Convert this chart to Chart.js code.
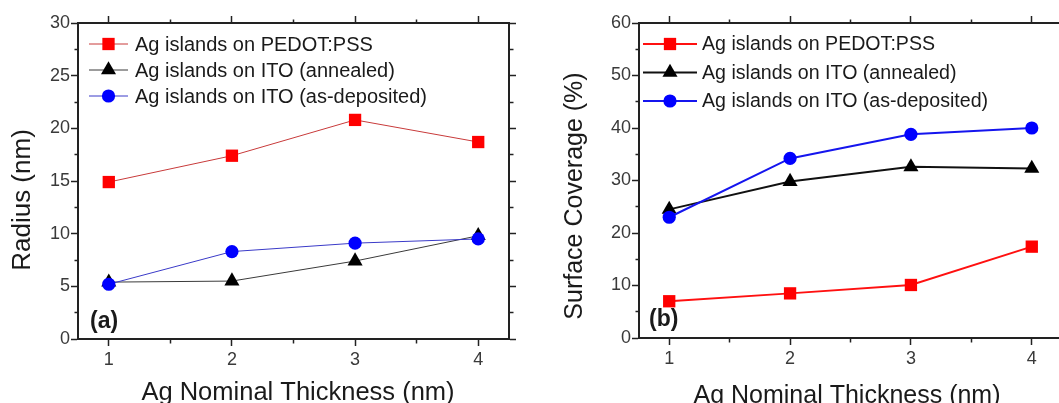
<!DOCTYPE html>
<html>
<head>
<meta charset="utf-8">
<title>Ag islands</title>
<script src="https://cdn.jsdelivr.net/npm/chart.js@4/dist/chart.umd.min.js"></script>
<style>
html, body { margin: 0; padding: 0; background: #fff; overflow: hidden; width: 1059px; height: 403px; }
#radiusChart { position: absolute; left: 0; top: 0; }
#coverageChart { position: absolute; left: 530px; top: 0; }
</style>
</head>
<body>
<canvas id="radiusChart" width="530" height="403"></canvas>
<canvas id="coverageChart" width="560" height="403"></canvas>
<script>
// data
var thickness = [1, 2, 3, 4];
var seriesNames = ['Ag islands on PEDOT:PSS', 'Ag islands on ITO (annealed)', 'Ag islands on ITO (as-deposited)'];

var radiusPedot = [14.9, 17.4, 20.8, 18.7];
var radiusItoAnnealed = [5.4, 5.5, 7.4, 9.8];
var radiusItoAsDep = [5.2, 8.3, 9.1, 9.5];

var coveragePedot = [7.0, 8.5, 10.1, 17.4];
var coverageItoAnnealed = [24.5, 29.8, 32.6, 32.3];
var coverageItoAsDep = [23.0, 34.2, 38.8, 40.0];

var xTicks = [1, 1.5, 2, 2.5, 3, 3.5, 4];
var xLabels = [1, 2, 3, 4];
var radiusTicks = [0, 2.5, 5, 7.5, 10, 12.5, 15, 17.5, 20, 22.5, 25, 27.5, 30];
var radiusLabels = [0, 5, 10, 15, 20, 25, 30];
var coverageTicks = [0, 5, 10, 15, 20, 25, 30, 35, 40, 45, 50, 55, 60];
var coverageLabels = [0, 10, 20, 30, 40, 50, 60];

var FONT = "'Liberation Sans', Arial, sans-serif";
Chart.defaults.font.family = FONT;

function toPoints(ys) {
    var pts = [];
    for (var i = 0; i < thickness.length; i++) {
        pts.push({ x: thickness[i], y: ys[i] });
    }
    return pts;
}

// one axis; labelled ticks get the long mark, the others a short one
function axis(pos, min, max, ticks, labels, showLabels, size) {
    var outerFirst = (pos == 'top' || pos == 'left');
    return {
        type: 'linear',
        position: pos,
        min: min,
        max: max,
        afterBuildTicks: function(scale) {
            scale.ticks = ticks.map(function(v) { return { value: v }; });
        },
        afterFit: function(scale) {
            if (pos == 'top' || pos == 'bottom') scale.height = size;
            else scale.width = size;
        },
        ticks: {
            display: showLabels,
            autoSkip: false,
            maxRotation: 0,
            padding: (pos == 'bottom') ? 3 : 1,
            color: '#3a3a3a',
            font: { size: 18 },
            callback: function(value) {
                return labels.indexOf(value) >= 0 ? String(value) : '';
            }
        },
        grid: {
            display: true,
            drawOnChartArea: false,
            drawTicks: true,
            tickLength: 7,
            tickWidth: 1.5,
            tickColor: '#222',
            tickBorderDash: function(ctx) {
                if (!ctx.tick || labels.indexOf(ctx.tick.value) >= 0) return [];
                return outerFirst ? [0, 3.5, 3.5, 30] : [3.5, 30];
            }
        },
        border: { display: true, color: '#222', width: 2 },
        title: { display: false }
    };
}

function textPlugin(cfg) {
    return {
        id: 'panelText',
        afterDraw: function(chart) {
            var ctx = chart.ctx;
            ctx.save();
            // legend inside the plot
            for (var i = 0; i < cfg.legend.length; i++) {
                var row = cfg.legend[i];
                var ds = chart.data.datasets[i];
                ctx.strokeStyle = ds.borderColor;
                ctx.lineWidth = ds.borderWidth;
                ctx.beginPath();
                ctx.moveTo(cfg.lineX1, row);
                ctx.lineTo(cfg.lineX2, row);
                ctx.stroke();
                ctx.fillStyle = ds.pointBackgroundColor;
                Chart.helpers.drawPoint(ctx, {
                    pointStyle: ds.pointStyle,
                    radius: ds.pointRadius,
                    rotation: 0,
                    borderWidth: 0
                }, (cfg.lineX1 + cfg.lineX2) / 2, row);
                ctx.fillStyle = '#1a1a1a';
                ctx.font = cfg.legendSize + 'px ' + FONT;
                ctx.textAlign = 'left';
                ctx.textBaseline = 'middle';
                ctx.fillText(seriesNames[i], cfg.textX, row + 1);
            }
            // panel letter
            ctx.font = 'bold 23px ' + FONT;
            ctx.fillText(cfg.letter, cfg.letterX, cfg.letterY);
            // x title
            ctx.font = cfg.xTitleSize + 'px ' + FONT;
            ctx.textAlign = 'center';
            ctx.textBaseline = 'alphabetic';
            ctx.fillText('Ag Nominal Thickness (nm)', cfg.xTitleX, cfg.xTitleY);
            // y title
            ctx.translate(cfg.yTitleX, cfg.yTitleY);
            ctx.rotate(-Math.PI / 2);
            ctx.font = cfg.yTitleSize + 'px ' + FONT;
            ctx.textBaseline = 'middle';
            ctx.fillText(cfg.yTitle, 0, 0);
            ctx.restore();
        }
    };
}

function makeDatasets(ys1, ys2, ys3, lw, colors) {
    return [{
        data: toPoints(ys1),
        borderColor: colors[0], borderWidth: lw,
        pointStyle: 'rect', pointRadius: 8.7, pointBackgroundColor: '#ff0000',
        pointBorderWidth: 0, order: 3
    }, {
        data: toPoints(ys2),
        borderColor: colors[1], borderWidth: lw,
        pointStyle: 'triangle', pointRadius: 8.7, pointBackgroundColor: '#000000',
        pointBorderWidth: 0, order: 2
    }, {
        data: toPoints(ys3),
        borderColor: colors[2], borderWidth: lw,
        pointStyle: 'circle', pointRadius: 6.6, pointBackgroundColor: '#0000ff',
        pointBorderWidth: 0, order: 1
    }];
}

var radiusChart = new Chart(document.getElementById('radiusChart'), {
    type: 'line',
    data: { datasets: makeDatasets(radiusPedot, radiusItoAnnealed, radiusItoAsDep, 1, ['#c83a3a', '#3a3a3a', '#3a3ac8']) },
    options: {
        responsive: false,
        animation: false,
        layout: { padding: 0 },
        plugins: { legend: { display: false }, tooltip: { enabled: false } },
        elements: { line: { tension: 0, fill: false } },
        scales: {
            x: axis('bottom', 0.75, 4.25, xTicks, xLabels, true, 64),
            x2: axis('top', 0.75, 4.25, xTicks, xLabels, false, 23),
            y: axis('left', 0, 30, radiusTicks, radiusLabels, true, 78),
            y2: axis('right', 0, 30, radiusTicks, radiusLabels, false, 21)
        }
    },
    plugins: [textPlugin({
        legend: [44, 70, 96], lineX1: 89, lineX2: 128, textX: 135, legendSize: 20,
        letter: '(a)', letterX: 90, letterY: 322,
        xTitleX: 298, xTitleY: 400, xTitleSize: 25.5,
        yTitle: 'Radius (nm)', yTitleX: 23, yTitleY: 200, yTitleSize: 26
    })]
});

var coverageChart = new Chart(document.getElementById('coverageChart'), {
    type: 'line',
    data: { datasets: makeDatasets(coveragePedot, coverageItoAnnealed, coverageItoAsDep, 2, ['#ff1010', '#111111', '#1515ee']) },
    options: {
        responsive: false,
        animation: false,
        layout: { padding: 0 },
        plugins: { legend: { display: false }, tooltip: { enabled: false } },
        elements: { line: { tension: 0, fill: false } },
        scales: {
            x: axis('bottom', 0.75, 4.25, xTicks, xLabels, true, 65),
            x2: axis('top', 0.75, 4.25, xTicks, xLabels, false, 23),
            y: axis('left', 0, 60, coverageTicks, coverageLabels, true, 109),
            y2: axis('right', 0, 60, coverageTicks, coverageLabels, false, 28)
        }
    },
    plugins: [textPlugin({
        legend: [44, 72.5, 101], lineX1: 113, lineX2: 167, textX: 172, legendSize: 19.6,
        letter: '(b)', letterX: 119, letterY: 320,
        xTitleX: 317, xTitleY: 403, xTitleSize: 25,
        yTitle: 'Surface Coverage (%)', yTitleX: 45, yTitleY: 196, yTitleSize: 25
    })]
});
</script>
</body>
</html>
